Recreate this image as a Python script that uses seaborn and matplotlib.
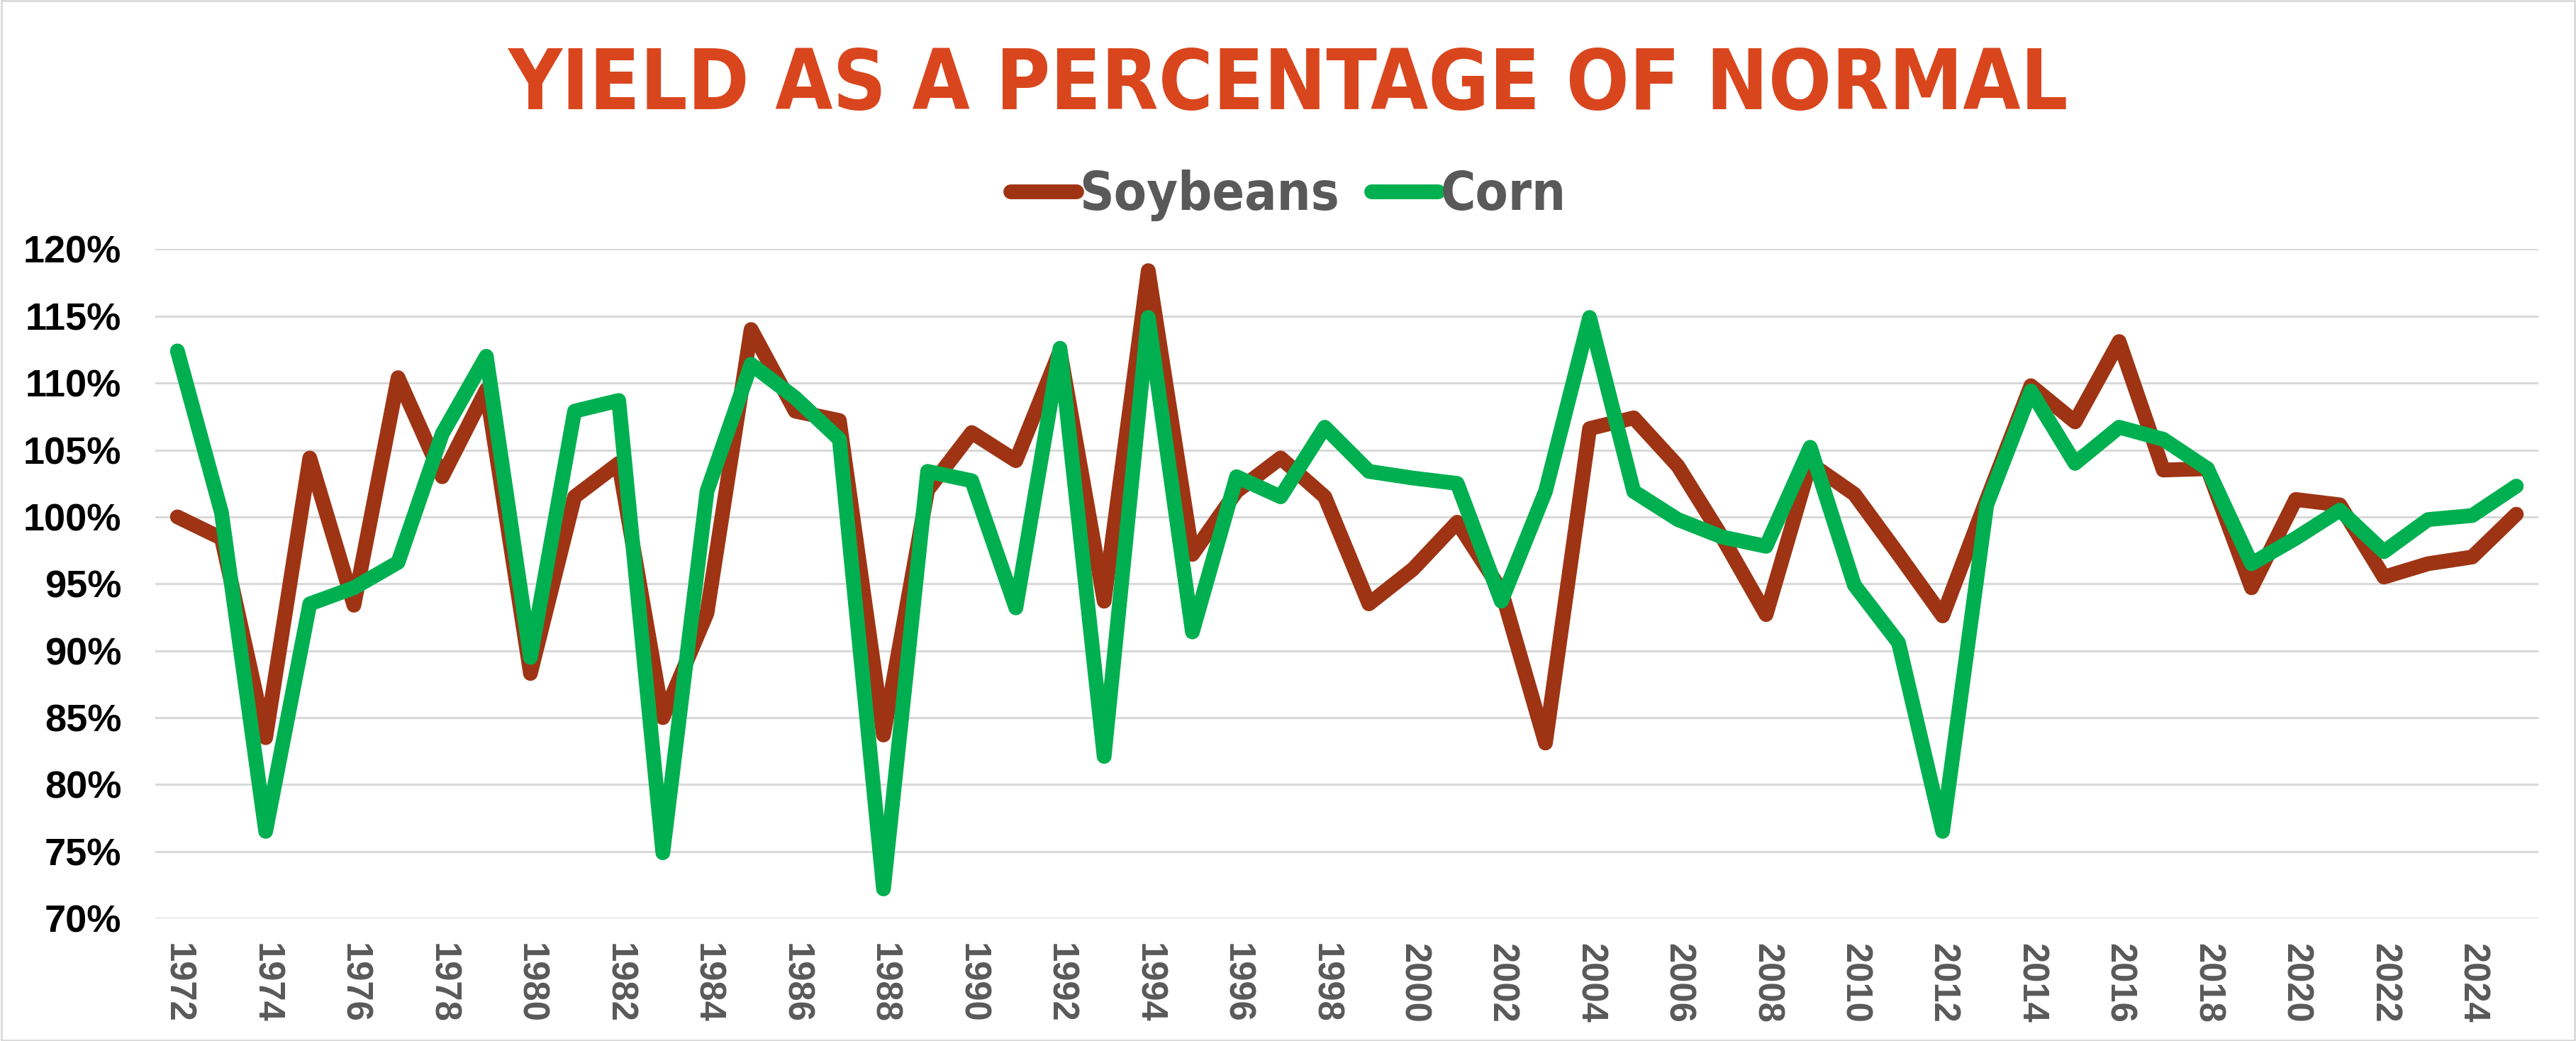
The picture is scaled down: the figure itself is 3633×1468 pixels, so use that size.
import pandas as pd
import matplotlib.pyplot as plt
import matplotlib.ticker as mticker
import seaborn as sns

# yield as % of normal
years = list(range(1972, 2026))

soybeans = [100.0, 98.4, 83.5, 104.4, 93.4, 110.4, 103.0, 109.5, 88.3, 101.5,
            104.0, 85.0, 92.8, 114.0, 107.9, 107.2, 83.7, 102.0, 106.3, 104.2,
            112.4, 93.7, 118.4, 97.2, 101.9, 104.4, 101.5, 93.5, 96.1, 99.6,
            94.5, 83.1, 106.6, 107.4, 103.8, 98.5, 92.7, 104.0, 101.7, 97.2,
            92.6, 101.3, 109.8, 107.1, 113.1, 103.5, 103.6, 94.7, 101.3, 100.9,
            95.5, 96.5, 97.0, 100.2]

corn = [112.4, 100.3, 76.5, 93.5, 94.7, 96.6, 106.2, 112.0, 89.5, 107.9,
        108.7, 74.9, 101.9, 111.4, 108.9, 105.8, 72.2, 103.4, 102.7, 93.2,
        112.6, 82.1, 114.9, 91.4, 103.0, 101.5, 106.7, 103.4, 102.9, 102.5,
        93.7, 101.9, 114.9, 101.9, 99.8, 98.5, 97.8, 105.2, 94.9, 90.6,
        76.5, 100.9, 109.4, 104.0, 106.7, 105.8, 103.6, 96.5, 98.4, 100.5,
        97.4, 99.8, 100.1, 102.3]

crops = ['Soybeans', 'Corn']
colors = ['#9E3414', '#00B050']

df = pd.DataFrame({'Year': years * 2,
                   'Yield': soybeans + corn,
                   'Crop': ['Soybeans'] * len(years) + ['Corn'] * len(years)})

sns.set_style('white')
plt.rcParams['font.family'] = ['Liberation Sans', 'DejaVu Sans']

fig = plt.figure(figsize=(36.33, 14.68), dpi=100)
ax = fig.add_axes([0.0603, 0.1178, 0.9251, 0.6428])

sns.lineplot(data=df, x='Year', y='Yield', hue='Crop', hue_order=crops,
             palette=colors, linewidth=15, solid_capstyle='round',
             solid_joinstyle='round', ax=ax)

ax.set_xlim(1971.5, 2025.5)
ax.set_ylim(70, 120)
ax.set_yticks(range(70, 121, 5))
ax.yaxis.set_major_formatter(mticker.PercentFormatter(xmax=100, decimals=0))
ax.set_xticks(range(1972, 2025, 2))
ax.set_xlabel('')
ax.set_ylabel('')

ax.grid(axis='y', color='#D9D9D9', linewidth=2.2)
ax.grid(axis='x', visible=False)
ax.set_axisbelow(True)
for s in ax.spines.values():
    s.set_visible(False)

ax.tick_params(axis='y', length=0, pad=34.5)
ax.tick_params(axis='x', length=0, pad=25)
for lab in ax.get_yticklabels():
    lab.set_fontsize(39)
    lab.set_fontweight('bold')
    lab.set_color('black')
for lab in ax.get_xticklabels():
    lab.set_fontsize(36.5)
    lab.set_fontweight('bold')
    lab.set_color('#595959')
    lab.set_rotation(-90)
    lab.set_va('top')

handles, labels = ax.get_legend_handles_labels()
ax.legend(handles, labels, loc='center', bbox_to_anchor=(0.5, 0.812),
          bbox_transform=fig.transFigure, ncol=2, frameon=False,
          handlelength=1.25, handletextpad=0.05, columnspacing=0.6,
          prop={'family': 'DejaVu Sans', 'stretch': 'condensed',
                'weight': 'bold', 'size': 54},
          labelcolor='#595959')

fig.text(0.5, 0.917, 'YIELD AS A PERCENTAGE OF NORMAL', ha='center', va='center',
         fontsize=84, fontweight='bold', fontstretch='condensed', color='#D9461E',
         family='DejaVu Sans')

# thin grey frame round the picture
fig.patches.append(plt.Rectangle((0.0005, 0.001), 0.999, 0.998, transform=fig.transFigure,
                                 fill=False, edgecolor='#D9D9D9', linewidth=2))

fig.savefig('out.png', dpi=100, facecolor='white')
